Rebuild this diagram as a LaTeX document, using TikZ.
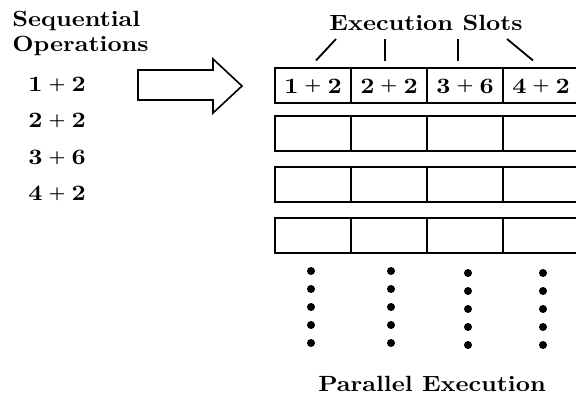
\documentclass[tikz,border=0pt]{standalone}
\usepackage{fontspec}
\setmainfont{lmroman10-regular.otf}[BoldFont=lmroman10-bold.otf, FakeStretch=1.12]
\newcommand\sumop[2]{#1\hspace{3pt}\raisebox{1.2pt}{\fontsize{8.5}{8.5}\selectfont+}\hspace{3pt}#2}
\begin{document}
\begin{tikzpicture}[x=0.5pt, y=-0.5pt,
    font=\fontsize{11}{13}\selectfont\bfseries,
    slot/.style={draw, line width=1pt, minimum width=38pt,
      minimum height=17.5pt, inner sep=0pt}]
  \useasboundingbox (0,0) rectangle (576,399);

  \node[anchor=base west, inner sep=0pt] (seq) at (12,27) {Sequential};
  \node[anchor=base west, inner sep=0pt] (ops) at (12,52) {Operations};

  \node[anchor=base west, inner sep=0pt] (op1) at (28,92) {\sumop{1}{2}};
  \node[anchor=base west, inner sep=0pt] (op2) at (28,128) {\sumop{2}{2}};
  \node[anchor=base west, inner sep=0pt] (op3) at (28,165) {\sumop{3}{6}};
  \node[anchor=base west, inner sep=0pt] (op4) at (28,201) {\sumop{4}{2}};

  % block arrow
  \draw[line width=0.8pt] (138,70) -- (213,70) -- (213,59) -- (242,86) --
  (213,113) -- (213,100) -- (138,100) -- cycle;

  \node[slot] (r1c1) at (313,86) {\sumop{1}{2}};
  \node[slot] (r1c2) at (389,86) {\sumop{2}{2}};
  \node[slot] (r1c3) at (465,86) {\sumop{3}{6}};
  \node[slot] (r1c4) at (541,86) {\sumop{4}{2}};
  \foreach \r/\y in {2/133.5, 3/184.5, 4/235.5}
    \foreach \c/\x in {1/313, 2/389, 3/465, 4/541}
      \node[slot] (r\r c\c) at (\x,\y) {};

  \node[anchor=base, inner sep=0pt] (slots) at (426,31) {Execution Slots};
  \coordinate (t1) at (336,39);
  \coordinate (t2) at (385,39);
  \coordinate (t3) at (458,39);
  \coordinate (t4) at (507,39);
  \draw[line width=0.9pt] (t1) -- ([xshift=1.5pt, yshift=3.5pt]r1c1.north);
  \draw[line width=0.9pt] (t2) -- ([xshift=-2pt, yshift=3pt]r1c2.north);
  \draw[line width=0.9pt] (t3) -- ([xshift=-3.5pt, yshift=3pt]r1c3.north);
  \draw[line width=0.9pt] (t4) -- ([xshift=-4pt, yshift=3.5pt]r1c4.north);

  \foreach \x/\y in {311/271, 391/271, 468/273, 543/273}
    \foreach \k in {0,...,4}
      \fill (\x,\y+18*\k) circle[radius=2pt];

  \node[anchor=base, inner sep=0pt] (par) at (432,391) {Parallel Execution};
\end{tikzpicture}
\end{document}
